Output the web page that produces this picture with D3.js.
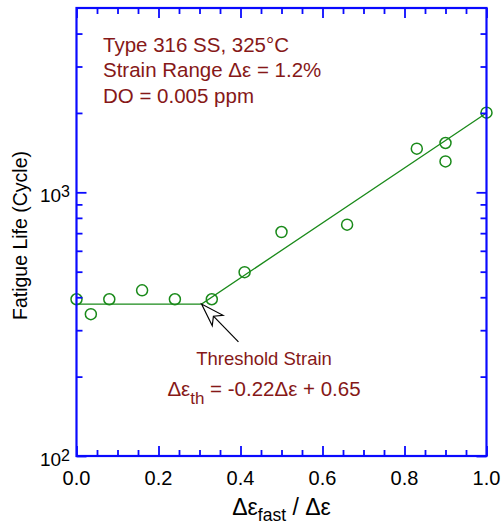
<!DOCTYPE html>
<html>
<head>
<meta charset="utf-8">
<script src="https://cdn.jsdelivr.net/npm/d3@7/dist/d3.min.js"></script>
<style>
  html, body { margin: 0; padding: 0; background: #ffffff; }
  svg { display: block; }
  text { font-family: "Liberation Sans", Arial, Helvetica, sans-serif; }
</style>
</head>
<body>
<svg id="chart" width="504" height="525"></svg>
<script>
// ---- data ----
const ratio = [0, 0.035, 0.08, 0.16, 0.24, 0.33, 0.41, 0.50, 0.66, 0.83, 0.90, 0.90, 1.0];
const life  = [393, 345, 393, 425, 393, 393, 498, 707, 754, 1464, 1538, 1310, 2004];
const fitRatio = [0, 0.305, 1.0];
const fitLife  = [377, 377, 2000];
const xMajorTicks = [0, 0.2, 0.4, 0.6, 0.8, 1.0];
const xMinorTicks = [0.05, 0.1, 0.15, 0.25, 0.3, 0.35, 0.45, 0.5, 0.55, 0.65, 0.7, 0.75, 0.85, 0.9, 0.95];
const yMajorTicks = [100, 1000];
const yMajorExp = ["2", "3"];
const yMinorTicks = [200, 300, 400, 500, 600, 700, 800, 900, 2000, 3000, 4000];
const infoLines = ["Type 316 SS, 325°C", "Strain Range Δε = 1.2%", "DO = 0.005 ppm"];
const arrowTip = [0.305, 377];
const arrowTail = [0.395, 271];

// ---- styling ----
const blue = "#0a0aff";
const green = "#1a8a1a";
const maroon = "#861818";

const svg = d3.select("#chart");
const L = 76.5, R = 486.5, T = 8, B = 456;
const x = d3.scaleLinear().domain([0, 1]).range([L, R]);
const y = d3.scaleLog().domain([100, 5000]).range([B, T]);

// fit line
const line = d3.line().x((d, i) => x(fitRatio[i])).y((d, i) => y(fitLife[i]));
svg.append("path").datum(fitRatio).attr("d", line)
  .attr("fill", "none").attr("stroke", green).attr("stroke-width", 1.3);

// data circles
svg.append("g").selectAll("circle").data(ratio).join("circle")
  .attr("cx", (d) => x(d)).attr("cy", (d, i) => y(life[i])).attr("r", 5.5)
  .attr("fill", "none").attr("stroke", green).attr("stroke-width", 1.5);

// axes (ticks inward, both sides)
const gAx = svg.append("g");
function drawX(ticks, len) {
  gAx.append("g").attr("transform", `translate(0,${B})`)
    .call(d3.axisTop(x).tickValues(ticks).tickSize(len).tickFormat(""))
    .call(g => g.select(".domain").remove());
  gAx.append("g").attr("transform", `translate(0,${T})`)
    .call(d3.axisBottom(x).tickValues(ticks).tickSize(len).tickFormat(""))
    .call(g => g.select(".domain").remove());
}
function drawY(ticks, len) {
  gAx.append("g").attr("transform", `translate(${L},0)`)
    .call(d3.axisRight(y).tickValues(ticks).tickSize(len).tickFormat(""))
    .call(g => g.select(".domain").remove());
  gAx.append("g").attr("transform", `translate(${R},0)`)
    .call(d3.axisLeft(y).tickValues(ticks).tickSize(len).tickFormat(""))
    .call(g => g.select(".domain").remove());
}
drawX(xMajorTicks, 10);
drawX(xMinorTicks, 6);
drawY(yMajorTicks, 10);
drawY(yMinorTicks, 6);
gAx.selectAll("line").attr("stroke", blue).attr("stroke-width", 1.8);
svg.append("rect").attr("x", L).attr("y", T).attr("width", R - L).attr("height", B - T)
  .attr("fill", "none").attr("stroke", blue).attr("stroke-width", 2.2);

// x tick labels
svg.append("g").selectAll("text").data(xMajorTicks).join("text")
  .attr("x", (d) => x(d)).attr("y", 484.5).attr("text-anchor", "middle")
  .attr("font-size", 20).attr("fill", "#000").text((d) => d3.format(".1f")(d));

// y tick labels
const yl = svg.append("g").selectAll("text").data(yMajorTicks).join("text")
  .attr("x", 70).attr("y", (d) => y(d) + 9.5).attr("text-anchor", "end")
  .attr("font-size", 19).attr("fill", "#000");
yl.append("tspan").text("10");
yl.append("tspan").attr("dy", -5).attr("font-size", 16).text((d, i) => yMajorExp[i]);

// axis titles
const xt = svg.append("text").attr("x", (L + R) / 2).attr("y", 515).attr("text-anchor", "middle")
  .attr("font-size", 23).attr("fill", "#000");
xt.append("tspan").text("Δε");
xt.append("tspan").attr("dy", 6).attr("font-size", 17.5).text("fast");
xt.append("tspan").attr("dy", -6).text(" / Δε");

svg.append("text").attr("transform", `translate(27,235.5) rotate(-90)`)
  .attr("text-anchor", "middle").attr("font-size", 19.5).attr("fill", "#000")
  .text("Fatigue Life (Cycle)");

// info text
svg.append("g").selectAll("text").data(infoLines).join("text")
  .attr("x", 103).attr("y", (d, i) => 51.7 + i * 25.5)
  .attr("font-size", 20.5).attr("fill", maroon).text((d) => d);

// annotation
svg.append("text").attr("x", 264).attr("y", 365).attr("text-anchor", "middle")
  .attr("font-size", 18.5).attr("fill", maroon).text("Threshold Strain");
const eq = svg.append("text").attr("x", 264).attr("y", 396).attr("text-anchor", "middle")
  .attr("font-size", 20.5).attr("fill", maroon);
eq.append("tspan").text("Δε");
eq.append("tspan").attr("dy", 8).attr("font-size", 17).text("th");
eq.append("tspan").attr("dy", -8).text(" = -0.22Δε + 0.65");

// arrow
const tx = x(arrowTip[0]), ty = y(arrowTip[1]);
const ex = x(arrowTail[0]), ey = y(arrowTail[1]);
const ang = Math.atan2(ey - ty, ex - tx);
const ux = Math.cos(ang), uy = Math.sin(ang), px = -uy, py = ux;
const hl = 23, hw = 7.5, nl = 17;
const head = [
  [tx, ty],
  [tx + ux * hl + px * hw, ty + uy * hl + py * hw],
  [tx + ux * nl, ty + uy * nl],
  [tx + ux * hl - px * hw, ty + uy * hl - py * hw]
];
svg.append("line").attr("x1", tx + ux * nl).attr("y1", ty + uy * nl)
  .attr("x2", ex).attr("y2", ey).attr("stroke", "#000").attr("stroke-width", 1.2);
svg.append("path").attr("d", d3.line()(head) + "Z")
  .attr("fill", "#fff").attr("stroke", "#000").attr("stroke-width", 1.2);
</script>
</body>
</html>
